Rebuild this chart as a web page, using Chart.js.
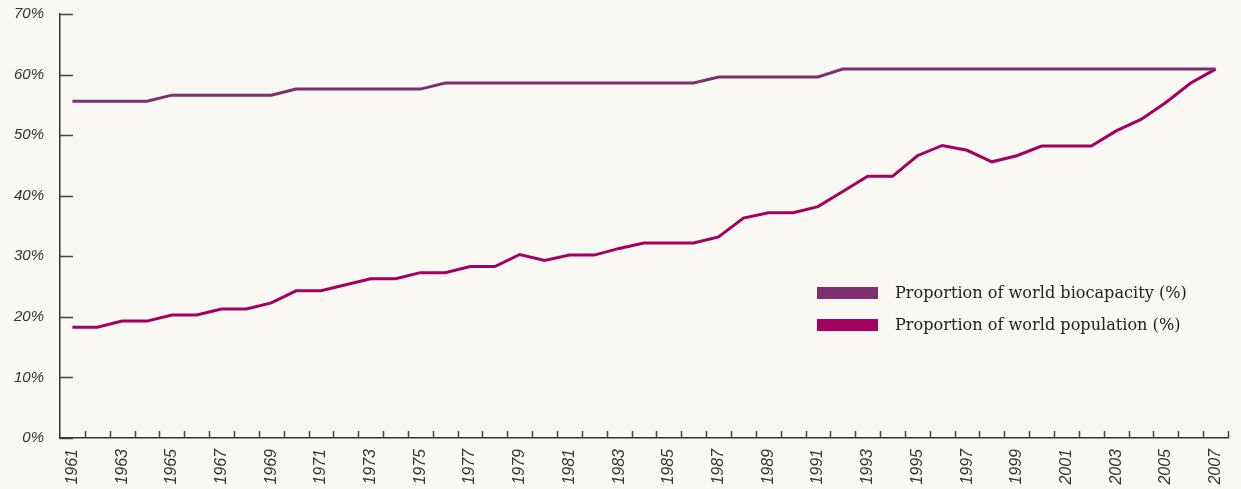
<!DOCTYPE html>
<html>
<head>
<meta charset="utf-8">
<script src="https://cdn.jsdelivr.net/npm/chart.js@4/dist/chart.umd.min.js"></script>
<style>
  html, body { margin: 0; padding: 0; background: #f9f8f3; }
  #wrap { width: 1241px; height: 489px; }
</style>
</head>
<body>
<div id="wrap"><canvas id="chart" width="1241" height="489"></canvas></div>
<script>
var years = [];
for (var y = 1961; y <= 2007; y++) years.push(String(y));

var biocapacity = [
    55.6, 55.6, 55.6, 55.6, 56.6, 56.6, 56.6, 56.6, 56.6, 57.6,
    57.6, 57.6, 57.6, 57.6, 57.6, 58.6, 58.6, 58.6, 58.6, 58.6,
    58.6, 58.6, 58.6, 58.6, 58.6, 58.6, 59.6, 59.6, 59.6, 59.6,
    59.6, 60.9, 60.9, 60.9, 60.9, 60.9, 60.9, 60.9, 60.9, 60.9,
    60.9, 60.9, 60.9, 60.9, 60.9, 60.9, 60.9
];
var population = [
    18.3, 18.3, 19.3, 19.3, 20.3, 20.3, 21.3, 21.3, 22.3, 24.3,
    24.3, 25.3, 26.3, 26.3, 27.3, 27.3, 28.3, 28.3, 30.3, 29.3,
    30.2, 30.2, 31.3, 32.2, 32.2, 32.2, 33.2, 36.3, 37.2, 37.2,
    38.2, 40.7, 43.2, 43.2, 46.6, 48.3, 47.5, 45.6, 46.6, 48.2,
    48.2, 48.2, 50.7, 52.6, 55.4, 58.6, 60.9
];
var yTicks = [0, 10, 20, 30, 40, 50, 60, 70];

var bioColor = '#7d2f70';
var popColor = '#a3005f';

// inward tick marks + legend
var decorPlugin = {
    id: 'decor',
    afterDraw: function(chart) {
        var ctx = chart.ctx;
        var area = chart.chartArea;
        var xs = chart.scales.x;
        var ys = chart.scales.y;
        ctx.save();
        ctx.strokeStyle = '#444';
        ctx.lineWidth = 1.5;
        ctx.beginPath();
        yTicks.forEach(function(v) {
            var py = Math.round(ys.getPixelForValue(v)) + 0.5;
            ctx.moveTo(area.left, py);
            ctx.lineTo(area.left + 13, py);
        });
        var step = xs.getPixelForValue(1) - xs.getPixelForValue(0);
        for (var i = 1; i <= years.length; i++) {
            var px = Math.round(xs.getPixelForValue(i) - step / 2) + 0.5;
            ctx.moveTo(px, area.bottom);
            ctx.lineTo(px, area.bottom - 7);
        }
        ctx.stroke();

        // legend
        var lx = 817, ly = 287;
        ctx.font = '16px "DejaVu Serif", serif';
        var size = 16 * 292 / ctx.measureText(chart.data.datasets[0].label).width;
        chart.data.datasets.forEach(function(ds, k) {
            var by = ly + k * 32;
            ctx.fillStyle = ds.borderColor;
            ctx.fillRect(lx, by, 61, 12);
            ctx.fillStyle = '#222';
            ctx.font = size.toFixed(2) + 'px "DejaVu Serif", serif';
            ctx.textBaseline = 'middle';
            ctx.textAlign = 'left';
            ctx.fillText(ds.label, lx + 78, by + 7);
        });
        ctx.restore();
    }
};

new Chart(document.getElementById('chart'), {
    type: 'line',
    data: {
        labels: years,
        datasets: [{
            label: 'Proportion of world biocapacity (%)',
            data: biocapacity,
            borderColor: bioColor,
            backgroundColor: bioColor,
            borderWidth: 3,
            pointRadius: 0,
            tension: 0
        }, {
            label: 'Proportion of world population (%)',
            data: population,
            borderColor: popColor,
            backgroundColor: popColor,
            borderWidth: 3,
            pointRadius: 0,
            tension: 0
        }]
    },
    options: {
        responsive: false,
        animation: false,
        layout: { padding: { top: 14, right: 13, left: 0, bottom: 0 } },
        plugins: {
            legend: { display: false },
            tooltip: { enabled: false }
        },
        scales: {
            x: {
                offset: true,
                grid: { display: false, drawTicks: false, offset: true },
                border: { display: true, color: '#333', width: 1.5 },
                ticks: {
                    autoSkip: false,
                    maxRotation: 90,
                    minRotation: 90,
                    padding: 11,
                    color: '#333',
                    font: { family: 'Liberation Sans, Arial, sans-serif', size: 16, style: 'italic' },
                    callback: function(val, idx) {
                        return idx % 2 === 0 ? years[idx] : '';
                    }
                },
                afterFit: function(scale) {
                    scale.height = 51;
                    scale.paddingLeft = 0;
                    scale.paddingRight = 0;
                }
            },
            y: {
                min: 0,
                max: 70,
                grid: { display: false, drawTicks: false },
                border: { display: true, color: '#333', width: 1.5 },
                afterBuildTicks: function(scale) {
                    scale.ticks = yTicks.map(function(v) { return { value: v }; });
                },
                ticks: {
                    padding: 16,
                    color: '#333',
                    font: { family: 'Liberation Sans, Arial, sans-serif', size: 15, style: 'italic' },
                    callback: function(v) { return v + '%'; }
                },
                afterFit: function(scale) {
                    scale.width = 60;
                    scale.paddingTop = 0;
                    scale.paddingBottom = 0;
                }
            }
        }
    },
    plugins: [decorPlugin]
});
</script>
</body>
</html>
